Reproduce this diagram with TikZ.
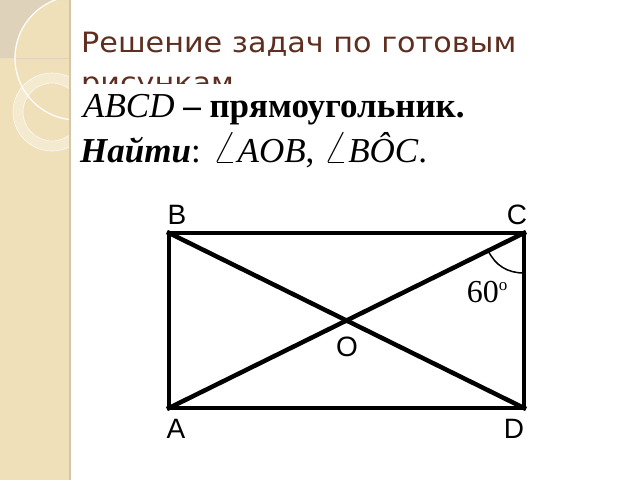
\documentclass[tikz,border=0pt]{standalone}
\usepackage{graphicx}
\usepackage{fontspec}
\setmainfont{Liberation Serif}
\newfontfamily\titlefont[FakeStretch=1.08]{DejaVu Sans}
\newfontfamily\labelfont{Liberation Sans}
\usetikzlibrary{calc}
\definecolor{stripc}{RGB}{240,224,186}
\definecolor{stripedge}{RGB}{212,198,168}
\definecolor{lensc}{RGB}{222,210,186}
\definecolor{ringc}{RGB}{244,234,208}
\definecolor{titlec}{RGB}{94,46,32}
\newcommand{\myangle}{\scalebox{1.3}{$\angle$}}
\tikzset{
  fig/.style={line width=4.5pt, line join=miter, line cap=rect},
  ptlabel/.style={font=\labelfont\fontsize{28}{28}\selectfont, inner sep=0pt},
  body/.style={anchor=base west, inner sep=0pt, font=\fontsize{35}{35}\selectfont},
  titletext/.style={anchor=base west, inner sep=0pt, text=titlec, font=\titlefont\fontsize{28}{28}\selectfont}
}
\begin{document}
\begin{tikzpicture}[x=1pt,y=-1pt]
\useasboundingbox (0,0) rectangle (640,480);
\fill[white] (0,0) rectangle (640,480);
% left decorative strip
\begin{scope}
  \clip (0,0) rectangle (69,480);
  \fill[stripc] (0,0) rectangle (69,480);
  \begin{scope}
    \clip (0,0) rectangle (77,58);
    \fill[lensc, even odd rule] (0,0) rectangle (77,58) (77,58) circle[radius=62];
  \end{scope}
  \fill[ringc, even odd rule] (52,112) circle[radius=39] (52,112) circle[radius=29];
  \draw[white!85!stripc, line width=0.6pt] (52,112) circle[radius=39] (52,112) circle[radius=29];
  \draw[white, line width=1.2pt] (77,58) circle[radius=62];
\end{scope}
\fill[stripedge] (69,0) rectangle (71,480);
% title
\node[titletext] (t1) at (81,52) {Решение задач по готовым};
\node[titletext] (t2) at (81,92) {рисункам};
\fill[white] (71,84) rectangle (640,480);
% body text
\node[body] (l1) at (83,117) {\textit{ABCD} \textbf{– прямоугольник.}};
\node[body] (l2) at (80,162) {\textbf{\textit{Найти}}: \myangle\textit{AOB}, \myangle\textit{B\^{O}C}.};
% figure
\coordinate (A) at (169,408);
\coordinate (B) at (169,233);
\coordinate (C) at (524,233);
\coordinate (D) at (524,408);
\coordinate (O) at ($(A)!0.5!(C)$);
\draw[fig] (A) -- (B) -- (C) -- (D) -- cycle;
\draw[fig] (A) -- (C);
\draw[fig] (B) -- (D);
\draw[line width=1.5pt] ($(C)!40pt!(A)$) to[bend right=32] ($(C)!40pt!(D)$);
\node[ptlabel] (lB) at (177,215) {B};
\node[ptlabel] (lC) at (517,215) {C};
\node[ptlabel] (lA) at (176,429) {A};
\node[ptlabel] (lD) at (514,429) {D};
\node[ptlabel] (lO) at (347,347) {O};
\node[inner sep=0pt, font=\fontsize{32}{32}\selectfont] (ang) at (487,292) {60\raisebox{0.38em}{\fontsize{17}{17}\selectfont o}};
\end{tikzpicture}
\end{document}
